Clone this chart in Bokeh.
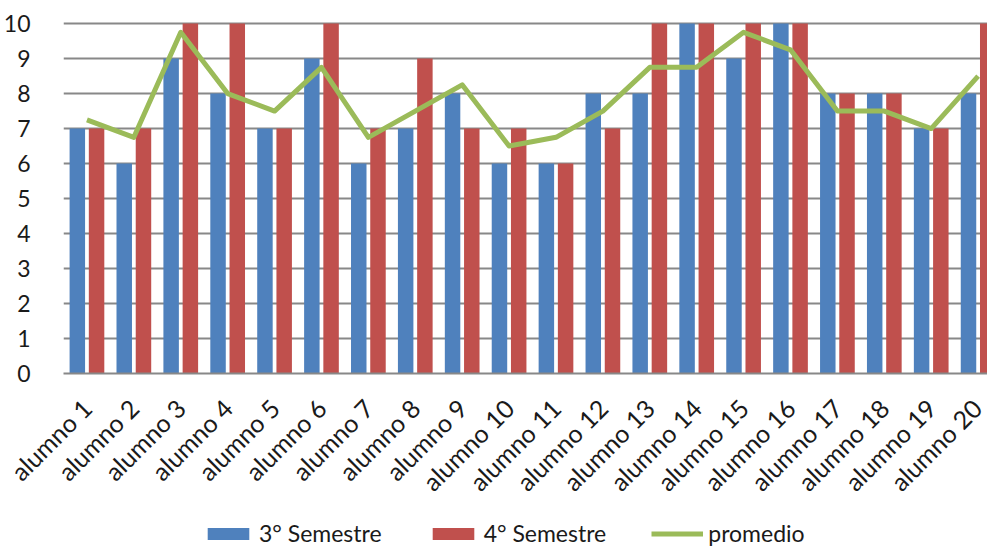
import math

from bokeh.embed import file_html
from bokeh.layouts import column
from bokeh.models import FixedTicker, Legend, LegendItem, Range1d
from bokeh.plotting import figure
from bokeh.resources import INLINE

# Category labels and values
alumnos = [
    "alumno 1", "alumno 2", "alumno 3", "alumno 4", "alumno 5",
    "alumno 6", "alumno 7", "alumno 8", "alumno 9", "alumno 10",
    "alumno 11", "alumno 12", "alumno 13", "alumno 14", "alumno 15",
    "alumno 16", "alumno 17", "alumno 18", "alumno 19", "alumno 20",
]
semestre_3 = [7, 6, 9, 8, 7, 9, 6, 7, 8, 6, 6, 8, 8, 10, 9, 10, 8, 8, 7, 8]
semestre_4 = [7, 7, 10, 10, 7, 10, 7, 9, 7, 7, 6, 7, 10, 10, 10, 10, 8, 8, 7, 10]
promedio = [7.25, 6.75, 9.75, 8.0, 7.5, 8.75, 6.75, 7.5, 8.25, 6.5,
            6.75, 7.5, 8.75, 8.75, 9.75, 9.25, 7.5, 7.5, 7.0, 8.5]
y_ticks = [0, 1, 2, 3, 4, 5, 6, 7, 8, 9, 10]

BLUE = "#4F81BD"
RED = "#C0504D"
GREEN = "#9BBB59"
GRID = "#888888"
TEXT = "#1a1a1a"
FONT = "Lato"

# category i sits on the numeric interval [i, i+1]
centers = [i + 0.5 for i in range(len(alumnos))]
x_blue = [c - 0.205 for c in centers]
x_red = [c + 0.205 for c in centers]

p = figure(
    width=987, height=512,
    x_range=Range1d(0, 19.70), y_range=Range1d(0, 10.06),
    output_backend="svg", toolbar_location=None,
    min_border_left=62, min_border_right=0,
    min_border_top=21, min_border_bottom=139,
)
p.outline_line_color = None
p.background_fill_color = "white"
p.border_fill_color = "white"

bar_style = dict(bottom=0, width=0.33, line_color=None)
r3 = p.vbar(x=x_blue, top=semestre_3, fill_color=BLUE, **bar_style)
r4 = p.vbar(x=x_red, top=semestre_4, fill_color=RED, **bar_style)
rp = p.line(x=centers, y=promedio, line_color=GREEN, line_width=5,
            line_join="round")

# axes
p.xaxis.ticker = FixedTicker(ticks=centers)
p.xaxis.major_label_overrides = {c: name for c, name in zip(centers, alumnos)}
p.xaxis.major_label_orientation = math.pi / 4
p.xaxis.major_tick_line_color = None
p.xaxis.minor_tick_line_color = None
p.xaxis.axis_line_color = GRID
p.xaxis.axis_line_width = 2
p.xaxis.major_label_standoff = 24
p.xaxis.major_label_text_font = FONT
p.xaxis.major_label_text_font_size = "25px"
p.xaxis.major_label_text_color = TEXT

p.yaxis.ticker = FixedTicker(ticks=y_ticks)
p.yaxis.axis_line_color = None
p.yaxis.major_tick_line_color = None
p.yaxis.minor_tick_line_color = None
p.yaxis.major_label_standoff = 27
p.yaxis.major_label_text_font = FONT
p.yaxis.major_label_text_font_size = "23px"
p.yaxis.major_label_text_color = TEXT

p.xgrid.grid_line_color = None
p.ygrid.grid_line_color = GRID
p.ygrid.grid_line_width = 2

# legend strip underneath the chart; its glyphs carry no drawable points
nan = float("nan")
leg = figure(
    width=987, height=35,
    x_range=Range1d(0, 1), y_range=Range1d(0, 1),
    x_axis_location=None, y_axis_location=None,
    output_backend="svg", toolbar_location=None,
    min_border_left=62, min_border_right=0,
    min_border_top=0, min_border_bottom=0,
)
leg.grid.visible = False
leg.outline_line_color = None
leg.background_fill_color = "white"
leg.border_fill_color = "white"
l3 = leg.vbar(x=[nan], top=[nan], fill_color=BLUE, **bar_style)
l4 = leg.vbar(x=[nan], top=[nan], fill_color=RED, **bar_style)
lp = leg.line(x=[nan, nan], y=[nan, nan], line_color=GREEN, line_width=5)

legend = Legend(
    items=[
        LegendItem(label="3° Semestre", renderers=[l3]),
        LegendItem(label="4° Semestre", renderers=[l4]),
        LegendItem(label="promedio", renderers=[lp]),
    ],
    orientation="horizontal",
    location=(139, 0),
    glyph_width=52, glyph_height=15,
    label_standoff=5, spacing=45,
    padding=0, margin=0,
    border_line_color=None, background_fill_alpha=0,
    label_text_font=FONT, label_text_font_size="23px",
    label_text_color=TEXT,
)
leg.add_layout(legend)

layout = column(p, leg, spacing=0)
open("out.html", "w").write(file_html(layout, INLINE))
